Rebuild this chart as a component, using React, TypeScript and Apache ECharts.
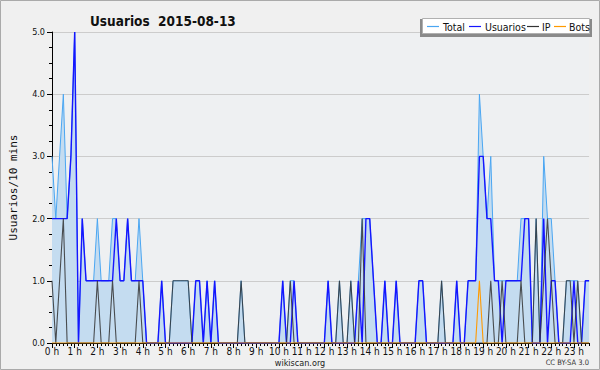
import React, { useEffect, useRef } from 'react';
import * as echarts from 'echarts';

const FONT = '"DejaVu Sans Condensed", "DejaVu Sans", sans-serif';
const MONO = '"DejaVu Sans Mono", monospace';

// 10-minute slots, one row per hour (0 h .. 23 h)
const usuarios: number[] = [
  2, 2, 2, 2, 2, 3,
  5, 0, 2, 1, 1, 1,
  1, 1, 1, 1, 1, 2,
  1, 1, 2, 1, 1, 1,
  1, 0, 0, 0, 0, 1,
  0, 0, 0, 0, 0, 0,
  0, 0, 1, 1, 0, 1,
  0, 1, 0, 0, 0, 0,
  0, 0, 0, 0, 0, 0,
  0, 0, 0, 0, 0, 0,
  0, 1, 0, 0, 1, 0,
  0, 0, 0, 0, 0, 0,
  0, 1, 0, 0, 0, 0,
  0, 0, 0, 1, 0, 2,
  2, 1, 0, 0, 1, 0,
  0, 1, 0, 0, 0, 0,
  0, 1, 1, 0, 0, 0,
  0, 0, 0, 0, 0, 1,
  0, 0, 1, 1, 1, 3,
  3, 2, 2, 1, 1, 0,
  1, 1, 1, 1, 1, 2,
  2, 0, 0, 0, 2, 0,
  1, 1, 0, 0, 0, 0,
  1, 0, 0, 1, 1,
];

const ip: number[] = [
  1, 0, 1, 2, 0, 0,
  0, 0, 0, 0, 0, 0,
  1, 0, 0, 0, 1, 0,
  0, 0, 0, 0, 0, 1,
  0, 0, 0, 0, 0, 0,
  0, 0, 1, 1, 1, 1,
  1, 0, 0, 0, 0, 0,
  0, 0, 0, 0, 0, 0,
  0, 0, 1, 0, 0, 0,
  0, 0, 0, 0, 0, 0,
  0, 0, 0, 1, 0, 0,
  0, 0, 0, 0, 0, 0,
  0, 0, 0, 0, 1, 0,
  0, 1, 0, 0, 2, 0,
  0, 0, 0, 0, 0, 0,
  0, 0, 0, 0, 0, 0,
  0, 0, 0, 0, 0, 0,
  0, 1, 0, 0, 0, 0,
  0, 0, 0, 0, 0, 0,
  0, 0, 1, 0, 0, 1,
  0, 0, 0, 0, 1, 0,
  0, 0, 2, 0, 1, 2,
  1, 0, 0, 0, 1, 1,
  0, 1, 0, 0, 0,
];

const bots: number[] = [
  0, 0, 0, 0, 0, 0,
  0, 0, 0, 0, 0, 0,
  0, 0, 0, 0, 0, 0,
  0, 0, 0, 0, 0, 0,
  0, 0, 0, 0, 0, 0,
  0, 0, 0, 0, 0, 0,
  0, 0, 0, 0, 0, 0,
  0, 0, 0, 0, 0, 0,
  0, 0, 0, 0, 0, 0,
  0, 0, 0, 0, 0, 0,
  0, 0, 0, 0, 0, 0,
  0, 0, 0, 0, 0, 0,
  0, 0, 0, 0, 0, 0,
  0, 0, 0, 0, 0, 0,
  0, 0, 0, 0, 0, 0,
  0, 0, 0, 0, 0, 0,
  0, 0, 0, 0, 0, 0,
  0, 0, 0, 0, 0, 0,
  0, 0, 0, 0, 0, 1,
  0, 0, 0, 0, 0, 0,
  0, 0, 0, 0, 0, 0,
  0, 0, 0, 0, 0, 0,
  0, 0, 0, 0, 0, 0,
  0, 0, 0, 0, 0,
];

const total: number[] = [
  3, 2, 3, 4, 2, 3,
  5, 0, 2, 1, 1, 1,
  2, 1, 1, 1, 2, 2,
  1, 1, 2, 1, 1, 2,
  1, 0, 0, 0, 0, 1,
  0, 0, 1, 1, 1, 1,
  1, 0, 1, 1, 0, 1,
  0, 1, 0, 0, 0, 0,
  0, 0, 1, 0, 0, 0,
  0, 0, 0, 0, 0, 0,
  0, 1, 0, 1, 1, 0,
  0, 0, 0, 0, 0, 0,
  0, 1, 0, 0, 1, 0,
  0, 1, 0, 1, 2, 2,
  2, 1, 0, 0, 1, 0,
  0, 1, 0, 0, 0, 0,
  0, 1, 1, 0, 0, 0,
  0, 1, 0, 0, 0, 1,
  0, 0, 1, 1, 1, 4,
  3, 2, 3, 1, 1, 1,
  1, 1, 1, 1, 2, 2,
  2, 0, 2, 0, 3, 2,
  2, 1, 0, 0, 1, 1,
  1, 1, 0, 1, 1,
];

const slots: string[] = usuarios.map((_, i) => `${Math.floor(i / 6)}:${i % 6}0`);

const legendItems = [
  { name: 'Total', color: '#4aa6f2' },
  { name: 'Usuarios', color: '#1515ff' },
  { name: 'IP', color: '#333333' },
  { name: 'Bots', color: '#ff9a00' },
];

export default function App() {
  const ref = useRef<HTMLDivElement>(null);
  useEffect(() => {
    if (!ref.current) return;
    const chart = echarts.init(ref.current, undefined, { renderer: 'svg' });

    const legendX = [427, 469, 527, 554];
    const legendTextX = [443, 485, 542, 569];
    const legendGraphics: any[] = [
      { type: 'rect', shape: { x: 420, y: 19, width: 172, height: 18 }, style: { fill: '#8a8a8a' }, z: 100 },
      { type: 'rect', shape: { x: 422.5, y: 18.5, width: 167, height: 15 }, style: { fill: '#ffffff', stroke: '#b0b0b0', lineWidth: 1 }, z: 101 },
    ];
    legendItems.forEach((it, k) => {
      legendGraphics.push({
        type: 'line',
        shape: { x1: legendX[k], y1: 26.5, x2: legendX[k] + 12, y2: 26.5 },
        style: { stroke: it.color, lineWidth: 1.2 },
        z: 102,
      });
      legendGraphics.push({
        type: 'text',
        x: legendTextX[k],
        y: 26.5,
        style: { text: it.name, fill: '#111', font: `10.5px ${FONT}`, textVerticalAlign: 'middle', textBaseline: 'middle' },
        z: 102,
      });
    });

    chart.setOption({
      animation: false,
      backgroundColor: '#f0f0f0',
      textStyle: { fontFamily: FONT },
      title: {
        text: 'Usuarios  2015-08-13',
        left: 85,
        top: 9,
        textStyle: { fontSize: 13.5, fontWeight: 'bold', color: '#111', fontFamily: FONT },
      },
      grid: {
        left: 46.7,
        right: 10.9,
        top: 32,
        bottom: 27,
        show: true,
        backgroundColor: '#eef0f2',
        borderWidth: 0,
      },
      xAxis: [
        {
          type: 'category',
          data: slots,
          boundaryGap: false,
          axisLine: { show: true, lineStyle: { color: '#000', width: 1 } },
          axisTick: { show: true, interval: 0, length: 3, lineStyle: { color: '#000' } },
          axisLabel: {
            interval: 5,
            formatter: (_v: string, i: number) => `${i / 6} h`,
            fontSize: 10,
            lineHeight: 10,
            color: '#111',
            margin: 3,
            fontFamily: FONT,
          },
          splitLine: { show: false },
        },
        {
          type: 'category',
          data: slots,
          boundaryGap: false,
          position: 'bottom',
          axisLine: { show: false },
          axisTick: { show: true, interval: 5, length: 5, lineStyle: { color: '#000' } },
          axisLabel: { show: false },
          splitLine: { show: false },
        },
      ],
      yAxis: {
        type: 'value',
        min: 0,
        max: 5,
        interval: 1,
        name: 'Usuarios/10 mins',
        nameLocation: 'middle',
        nameGap: 33,
        nameTextStyle: { fontSize: 11, color: '#111', fontFamily: MONO },
        axisLine: { show: true, lineStyle: { color: '#000', width: 1 } },
        axisTick: { show: true, length: 5, lineStyle: { color: '#000' } },
        minorTick: { show: true, splitNumber: 4, length: 3, lineStyle: { color: '#000' } },
        axisLabel: {
          formatter: (v: number) => v.toFixed(1),
          fontSize: 9,
          color: '#111',
          margin: 7,
          fontFamily: FONT,
        },
        splitLine: { show: true, lineStyle: { color: '#cccccc', width: 1 } },
        minorSplitLine: { show: false },
      },
      series: [
        {
          name: 'Total',
          type: 'line',
          data: total,
          symbol: 'none',
          lineStyle: { color: '#4aa6f2', width: 1 },
          areaStyle: { color: '#c4dcf0', opacity: 1 },
          z: 2,
        },
        {
          name: 'Usuarios',
          type: 'line',
          data: usuarios,
          symbol: 'none',
          lineStyle: { color: '#1515ff', width: 1.4 },
          z: 3,
        },
        {
          name: 'IP',
          type: 'line',
          data: ip,
          symbol: 'none',
          lineStyle: { color: '#333333', width: 1.1, opacity: 0.85 },
          z: 4,
        },
        {
          name: 'Bots',
          type: 'line',
          data: bots,
          symbol: 'none',
          lineStyle: { color: '#ff9a00', width: 1.1 },
          z: 5,
        },
      ],
      graphic: [
        {
          type: 'rect',
          shape: { x: 0.5, y: 0.5, width: 599, height: 369 },
          style: { fill: 'none', stroke: '#aaaaaa', lineWidth: 1 },
          z: 90,
        },
        ...legendGraphics,
        {
          type: 'text',
          x: 300,
          y: 363,
          style: { text: 'wikiscan.org', fill: '#222', font: `9px ${FONT}`, textAlign: 'center', textVerticalAlign: 'middle' },
          z: 100,
        },
        {
          type: 'text',
          x: 589,
          y: 362.5,
          style: { text: 'CC BY-SA 3.0', fill: '#333', font: `7.5px ${FONT}`, textAlign: 'right', textVerticalAlign: 'middle' },
          z: 100,
        },
      ],
    });
    return () => chart.dispose();
  }, []);
  return (
    <div
      ref={ref}
      style={{ position: 'fixed', left: 0, top: 0, width: 600, height: 370 }}
    />
  );
}
